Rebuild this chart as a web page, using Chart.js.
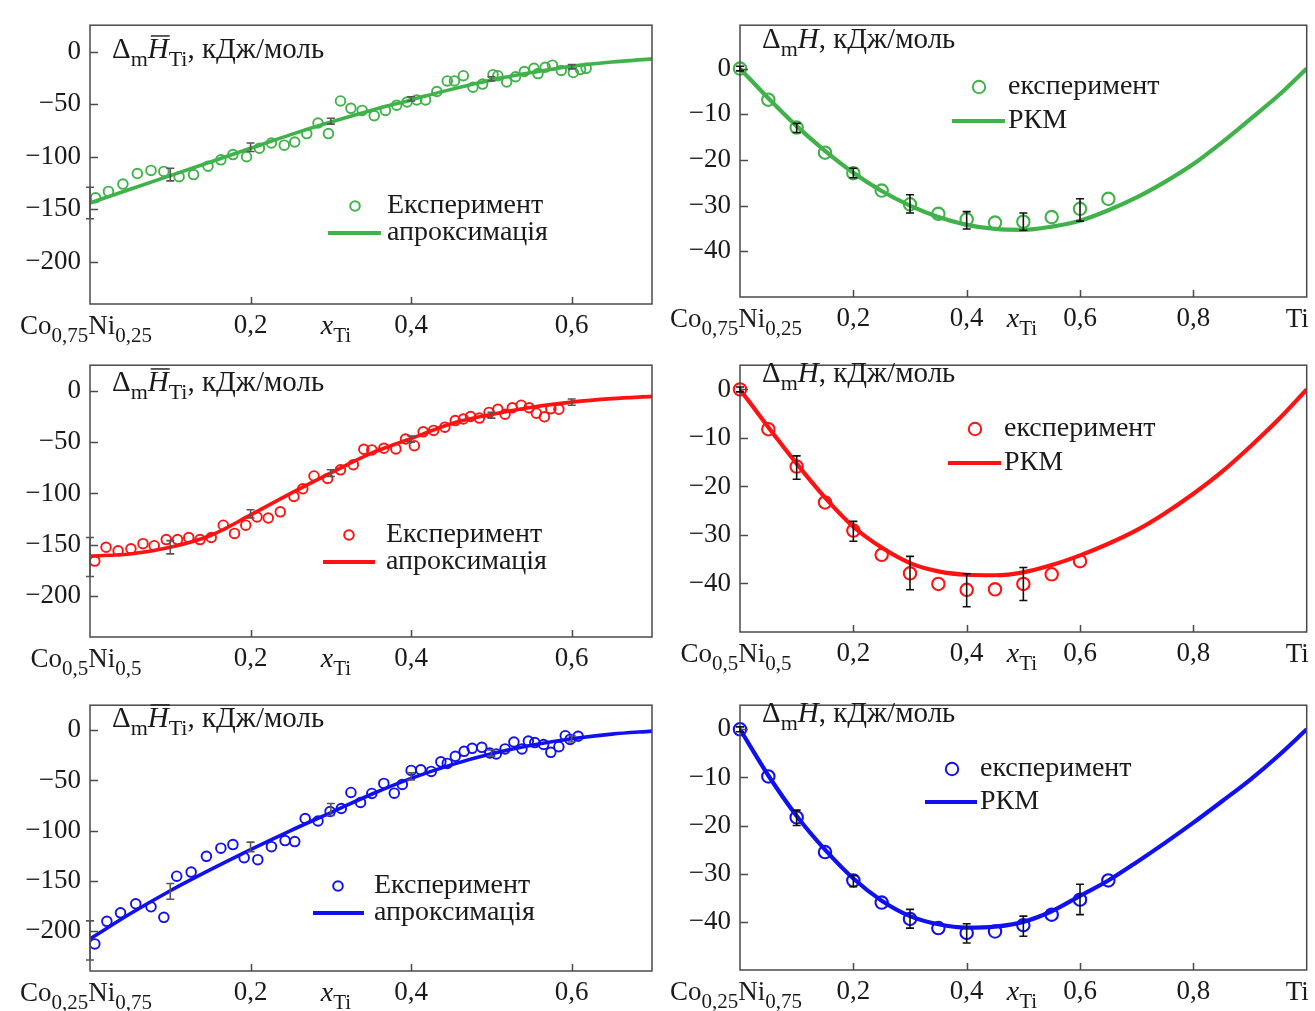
<!DOCTYPE html>
<html>
<head>
<meta charset="utf-8">
<script src="https://cdn.jsdelivr.net/npm/chart.js@4.4.1/dist/chart.umd.min.js"></script>
<style>
  body { margin: 0; background: #fff; width: 1315px; height: 1011px; position: relative; overflow: hidden; }
  canvas { position: absolute; }
</style>
</head>
<body>
<script>
// ---- data ----
const yTicksLeft = [0, -50, -100, -150, -200];
const yTicksRight = [0, -10, -20, -30, -40];
const xTicksLeft = [0.2, 0.4, 0.6];
const xTicksRight = [0.2, 0.4, 0.6, 0.8];

const fitXLeft = [0, 0.05, 0.1, 0.15, 0.2, 0.25, 0.3, 0.35, 0.4, 0.45, 0.5, 0.55, 0.6, 0.65, 0.7];
const fitXRight = [0, 0.05, 0.1, 0.15, 0.2, 0.25, 0.3, 0.35, 0.4, 0.45, 0.5, 0.55, 0.6, 0.65, 0.7, 0.75, 0.8, 0.85, 0.9, 0.95, 1.0];
const errXLeft = [0, 0.1, 0.2, 0.3, 0.4, 0.5, 0.6];

// partial enthalpy of Ti, Co0.75Ni0.25 (green)
const expXGreenL = [0.007, 0.023, 0.041, 0.059, 0.076, 0.092, 0.111, 0.129, 0.147, 0.163, 0.178, 0.195, 0.211, 0.226, 0.242, 0.255, 0.27, 0.284, 0.297, 0.312, 0.325, 0.339, 0.354, 0.368, 0.382, 0.395, 0.407, 0.418, 0.432, 0.445, 0.454, 0.465, 0.477, 0.489, 0.502, 0.508, 0.519, 0.53, 0.541, 0.553, 0.558, 0.567, 0.576, 0.587, 0.602, 0.611, 0.618];
const expYGreenL = [-139, -133, -126, -116, -113, -114, -119, -117, -109, -103, -98, -100, -92, -87, -89, -86, -78, -68, -78, -47, -54, -56, -61, -56, -51, -48, -46, -46, -38, -28, -28, -23, -34, -31, -22, -23, -29, -24, -19, -16, -21, -15, -13, -18, -20, -17, -16];
const fitYGreenL = [-144, -131, -118, -105, -92, -79, -67, -56, -46, -36, -27, -20, -14, -10, -7];
const errLoGreenL = [-159, -123, -95, -69, -47, -28, -16.5];
const errHiGreenL = [-129, -111, -87, -63.5, -43, -24, -12.5];

// partial enthalpy of Ti, Co0.5Ni0.5 (red)
const expXRedL = [0.006, 0.02, 0.035, 0.051, 0.066, 0.08, 0.095, 0.109, 0.123, 0.137, 0.151, 0.166, 0.18, 0.194, 0.208, 0.222, 0.237, 0.254, 0.265, 0.279, 0.296, 0.312, 0.328, 0.341, 0.351, 0.366, 0.381, 0.393, 0.404, 0.415, 0.428, 0.442, 0.455, 0.465, 0.474, 0.485, 0.497, 0.508, 0.517, 0.526, 0.537, 0.547, 0.556, 0.566, 0.574, 0.584];
const expYRedL = [-166, -152.5, -156, -154, -149, -151, -145, -145, -143, -145, -143, -131, -139, -131, -123, -124, -118, -103, -95.5, -83, -85.4, -77, -72, -57, -57.6, -56, -56.6, -47, -53.5, -40, -38.6, -35.4, -29, -27.5, -25, -26.6, -21, -18, -22.8, -16.5, -14, -16.5, -21.8, -25.3, -17.4, -18];
const fitYRedL = [-161, -159, -152.5, -141, -121, -100, -80, -61, -46.5, -32, -23, -16, -11, -7.6, -5.4];
const errLoRedL = [-181, -159, -124, -83.5, -50, -26.6, -14];
const errHiRedL = [-143, -146, -116, -77, -44, -21, -8];

// partial enthalpy of Ti, Co0.25Ni0.75 (blue)
const expXBlueL = [0.006, 0.021, 0.038, 0.057, 0.076, 0.092, 0.108, 0.126, 0.145, 0.163, 0.178, 0.192, 0.209, 0.226, 0.243, 0.255, 0.268, 0.284, 0.299, 0.313, 0.325, 0.337, 0.351, 0.366, 0.379, 0.389, 0.4, 0.412, 0.425, 0.437, 0.445, 0.455, 0.466, 0.476, 0.488, 0.498, 0.506, 0.517, 0.528, 0.538, 0.546, 0.554, 0.565, 0.574, 0.584, 0.592, 0.598, 0.608];
const expYBlueL = [-213, -190.5, -182, -173, -176, -186.5, -145.5, -141.4, -125.7, -117.5, -114, -127, -129, -116, -110, -111, -88, -90.4, -81, -78, -62, -72, -63, -53, -62.7, -54, -40, -39.4, -41, -31.5, -33, -26, -21, -18, -17, -22.7, -23.6, -18.6, -11.7, -18.6, -10.7, -12.3, -14.2, -22, -16.4, -5.4, -9.1, -6];
const fitYBlueL = [-208, -183, -160, -139, -119, -100, -82, -64, -48, -34.5, -23.5, -15, -8.5, -3.8, -0.8];
const errLoBlueL = [-229, -168.5, -121, -85, -49.5, -25.8, -11.7];
const errHiBlueL = [-190, -152.8, -111.5, -73, -42.5, -19.5, -5.4];

// integral mixing enthalpy, Co0.75Ni0.25–Ti (green)
const expXGreenR = [0, 0.05, 0.1, 0.15, 0.2, 0.25, 0.3, 0.35, 0.4, 0.45, 0.5, 0.55, 0.6, 0.65];
const expYGreenR = [0, -6.8, -12.9, -18.4, -22.9, -26.7, -29.7, -31.8, -33, -33.7, -33.5, -32.5, -30.7, -28.5];
const fitYGreenR = [0, -6.5, -12.6, -18, -22.8, -26.8, -30, -32.5, -34.2, -35.1, -35.3, -34.6, -33.3, -31, -28.2, -24.8, -20.9, -16.2, -11.1, -5.9, 0];
const errXGreenR = [0, 0.1, 0.2, 0.3, 0.4, 0.5, 0.6];
const errLoGreenR = [-0.5, -14, -23.9, -31.6, -35.1, -35.4, -33.4];
const errHiGreenR = [0.5, -12, -21.8, -27.6, -31.3, -31.6, -28.5];

// integral mixing enthalpy, Co0.5Ni0.5–Ti (red)
const expXRedR = [0, 0.05, 0.1, 0.15, 0.2, 0.25, 0.3, 0.35, 0.4, 0.45, 0.5, 0.55, 0.6];
const expYRedR = [0, -8.2, -15.9, -23.3, -29.1, -34.1, -37.9, -40.1, -41.3, -41.2, -40.1, -38.1, -35.4];
const fitYRedR = [0, -7.8, -15.3, -22.3, -28.3, -32.6, -35.8, -37.5, -38.2, -38.3, -37.7, -36.2, -34.2, -31.8, -29, -25.5, -21.5, -17, -11.8, -6.2, 0];
const errXRedR = [0, 0.1, 0.2, 0.3, 0.4, 0.5];
const errLoRedR = [-0.5, -18.5, -31.3, -41.3, -44.8, -43.5];
const errHiRedR = [0.5, -13.7, -27.2, -34.4, -38, -36.7];

// integral mixing enthalpy, Co0.25Ni0.75–Ti (blue)
const expXBlueR = [0, 0.05, 0.1, 0.15, 0.2, 0.25, 0.3, 0.35, 0.4, 0.45, 0.5, 0.55, 0.6, 0.65];
const expYBlueR = [0, -9.8, -18.3, -25.5, -31.4, -36, -39.4, -41.3, -42.3, -42, -40.7, -38.5, -35.4, -31.4];
const fitYBlueR = [0, -9.6, -18, -25, -31, -35.6, -38.8, -40.5, -41.2, -41, -40, -37.8, -34.6, -31.4, -27.6, -23.6, -19.4, -15, -10.5, -5.5, 0];
const errXBlueR = [0, 0.1, 0.2, 0.3, 0.4, 0.5, 0.6];
const errLoBlueR = [-0.5, -20, -32.7, -41.3, -44.4, -43, -38.5];
const errHiBlueR = [0.5, -16.8, -30.4, -37.4, -40.4, -38.8, -32.2];

// ---- look ----
const FONT = "'Liberation Serif', 'Times New Roman', serif";
const INK = '#1a1a1a';
const GREEN = '#3fb34a';
const RED = '#ff1212';
const BLUE = '#1010f0';
const TICK_SIZE = 27;

const pair = (xs, ys) => xs.map((x, i) => ({ x: x, y: ys[i] }));
const fmtY = v => (v < 0 ? '\u2212' + Math.abs(v) : String(v));
const fmtX = v => v.toFixed(1).replace('.', ',');

function setFont(ctx, st, size) {
  const it = st.includes('i') ? 'italic ' : '';
  const sz = st.includes('s') ? Math.round(size * 0.76) : size;
  ctx.font = it + sz + 'px ' + FONT;
}

// text with subscripts / overline, y is the baseline
function drawRich(ctx, parts, x, y, size, align) {
  let w = 0;
  parts.forEach(([t, st]) => { setFont(ctx, st, size); w += ctx.measureText(t).width; });
  let cx = align === 'center' ? x - w / 2 : (align === 'right' ? x - w : x);
  ctx.textAlign = 'left';
  ctx.textBaseline = 'alphabetic';
  ctx.fillStyle = INK;
  parts.forEach(([t, st]) => {
    setFont(ctx, st, size);
    const dy = st.includes('s') ? size * 0.28 : 0;
    ctx.fillText(t, cx, y + dy);
    const tw = ctx.measureText(t).width;
    if (st.includes('o')) {
      ctx.strokeStyle = INK;
      ctx.lineWidth = 1.4;
      ctx.beginPath();
      ctx.moveTo(cx + 3, y - size * 0.76);
      ctx.lineTo(cx + tw + 1, y - size * 0.76);
      ctx.stroke();
    }
    cx += tw;
  });
}

const decor = {
  id: 'decor',
  afterDatasetsDraw(chart) {
    const p = chart.options.plugins.decor;
    const ctx = chart.ctx;
    const a = chart.chartArea;
    const xs = chart.scales.x, ys = chart.scales.y;
    const ox = p.canvas[0], oy = p.canvas[1];
    ctx.save();

    // frame
    ctx.strokeStyle = '#4a4a4a';
    ctx.lineWidth = 1.5;
    ctx.strokeRect(a.left, a.top, a.right - a.left, a.bottom - a.top);

    // inward tick marks
    ctx.beginPath();
    p.xTicks.forEach(v => {
      const px = Math.round(xs.getPixelForValue(v)) + 0.5;
      ctx.moveTo(px, a.bottom); ctx.lineTo(px, a.bottom - 7);
    });
    p.yTicks.forEach(v => {
      const py = Math.round(ys.getPixelForValue(v)) + 0.5;
      ctx.moveTo(a.left, py); ctx.lineTo(a.left + 8, py);
    });
    ctx.stroke();

    // error bars
    ctx.strokeStyle = p.errColor;
    ctx.lineWidth = 1.6;
    ctx.beginPath();
    p.errX.forEach((v, i) => {
      const px = xs.getPixelForValue(v);
      const y1 = ys.getPixelForValue(p.errLo[i]);
      const y2 = ys.getPixelForValue(p.errHi[i]);
      ctx.moveTo(px, y1); ctx.lineTo(px, y2);
      ctx.moveTo(px - 4, y1); ctx.lineTo(px + 4, y1);
      ctx.moveTo(px - 4, y2); ctx.lineTo(px + 4, y2);
    });
    ctx.stroke();

    // title inside the plot
    drawRich(ctx, p.title, p.titleAt[0] - ox, p.titleAt[1] - oy, 29, 'left');

    // legend
    const L = p.legend;
    ctx.strokeStyle = p.color;
    ctx.lineWidth = 2;
    ctx.beginPath();
    ctx.arc(L.marker[0] - ox, L.marker[1] - oy, p.radius, 0, Math.PI * 2);
    ctx.stroke();
    ctx.lineWidth = 4;
    ctx.beginPath();
    ctx.moveTo(L.line[0] - ox, L.line[2] - oy);
    ctx.lineTo(L.line[1] - ox, L.line[2] - oy);
    ctx.stroke();
    drawRich(ctx, [[L.labels[0], 'n']], L.textX - ox, L.marker[1] - oy + 7, 28, 'left');
    drawRich(ctx, [[L.labels[1], 'n']], L.textX - ox, L.line[2] - oy + 7, 28, 'left');

    // axis texts
    const base = a.bottom + 30;
    drawRich(ctx, p.comp, a.left - 4, base, TICK_SIZE, 'center');
    drawRich(ctx, [['x', 'i'], ['Ti', 's']], p.xLabelAt - ox, base, 28, 'center');
    if (p.tiEnd) drawRich(ctx, [['Ti', 'n']], a.right + 2, base, TICK_SIZE, 'right');

    ctx.restore();
  }
};

const titleLeft = [['\u0394', 'n'], ['m', 's'], ['H', 'io'], ['Ti', 's'], [', кДж/моль', 'n']];
const titleRight = [['\u0394', 'n'], ['m', 's'], ['H', 'i'], [', кДж/моль', 'n']];
const legLeft = ['Експеримент', 'апроксимація'];
const legRight = ['експеримент', 'РКМ'];

// canvas rect and plot rect are page pixels; canvases overlap a little so subscripts are not cut
const panels = [
  { canvas: [0, 0, 660, 350], area: [90, 22, 652, 304], side: 'L', color: GREEN,
    exp: pair(expXGreenL, expYGreenL), fit: pair(fitXLeft, fitYGreenL),
    errX: errXLeft, errLo: errLoGreenL, errHi: errHiGreenL,
    comp: [['Co', 'n'], ['0,75', 's'], ['Ni', 'n'], ['0,25', 's']],
    titleAt: [112, 58], legend: { marker: [355, 206], line: [328, 381, 233], textX: 387, labels: legLeft } },
  { canvas: [0, 340, 660, 345], area: [90, 355, 652, 637], side: 'L', color: RED,
    exp: pair(expXRedL, expYRedL), fit: pair(fitXLeft, fitYRedL),
    errX: errXLeft, errLo: errLoRedL, errHi: errHiRedL,
    comp: [['Co', 'n'], ['0,5', 's'], ['Ni', 'n'], ['0,5', 's']],
    titleAt: [112, 391], legend: { marker: [349, 535], line: [323, 375, 562], textX: 386, labels: legLeft } },
  { canvas: [0, 680, 660, 331], area: [90, 689, 652, 971], side: 'L', color: BLUE,
    exp: pair(expXBlueL, expYBlueL), fit: pair(fitXLeft, fitYBlueL),
    errX: errXLeft, errLo: errLoBlueL, errHi: errHiBlueL,
    comp: [['Co', 'n'], ['0,25', 's'], ['Ni', 'n'], ['0,75', 's']],
    titleAt: [112, 727], legend: { marker: [338, 886], line: [313, 364, 913], textX: 374, labels: legLeft } },
  { canvas: [660, 0, 655, 345], area: [740, 11, 1308, 297], side: 'R', color: GREEN, yMax: 9.5,
    exp: pair(expXGreenR, expYGreenR), fit: pair(fitXRight, fitYGreenR),
    errX: errXGreenR, errLo: errLoGreenR, errHi: errHiGreenR,
    comp: [['Co', 'n'], ['0,75', 's'], ['Ni', 'n'], ['0,25', 's']],
    titleAt: [762, 48], legend: { marker: [979, 87], line: [952, 1005, 121], textX: 1008, labels: legRight } },
  { canvas: [660, 340, 655, 345], area: [740, 347, 1308, 632], side: 'R', color: RED, yMax: 5,
    exp: pair(expXRedR, expYRedR), fit: pair(fitXRight, fitYRedR),
    errX: errXRedR, errLo: errLoRedR, errHi: errHiRedR,
    comp: [['Co', 'n'], ['0,5', 's'], ['Ni', 'n'], ['0,5', 's']],
    titleAt: [762, 382], legend: { marker: [975, 429], line: [948, 1001, 463], textX: 1004, labels: legRight } },
  { canvas: [660, 680, 655, 331], area: [740, 688, 1308, 970], side: 'R', color: BLUE, yMax: 5,
    exp: pair(expXBlueR, expYBlueR), fit: pair(fitXRight, fitYBlueR),
    errX: errXBlueR, errLo: errLoBlueR, errHi: errHiBlueR,
    comp: [['Co', 'n'], ['0,25', 's'], ['Ni', 'n'], ['0,75', 's']],
    titleAt: [762, 722], legend: { marker: [952, 769], line: [925, 977, 802], textX: 980, labels: legRight } }
];

panels.forEach(p => {
  const [cx, cy, cw, ch] = p.canvas;
  const [al, at, ar, ab] = p.area;
  const left = p.side === 'L';
  const yW = 80, xH = 36;
  const cv = document.createElement('canvas');
  cv.width = cw; cv.height = ch;
  cv.style.left = cx + 'px'; cv.style.top = cy + 'px';
  document.body.appendChild(cv);

  const radius = left ? 4.8 : 6.2;
  const xTicks = left ? xTicksLeft : xTicksRight;
  const yTicks = left ? yTicksLeft : yTicksRight;

  new Chart(cv.getContext('2d'), {
    type: 'scatter',
    data: {
      datasets: [
        { data: p.exp, showLine: false, pointRadius: radius, pointHoverRadius: radius,
          pointBorderWidth: left ? 1.9 : 2.1, borderColor: p.color, backgroundColor: 'rgba(0,0,0,0)', clip: false },
        { data: p.fit, showLine: true, pointRadius: 0, borderWidth: left ? 3.6 : 4.2,
          borderColor: p.color, cubicInterpolationMode: 'monotone', fill: false }
      ]
    },
    plugins: [decor],
    options: {
      responsive: false,
      animation: false,
      events: [],
      layout: { padding: { left: al - cx - yW, top: at - cy, right: cx + cw - ar, bottom: cy + ch - ab - xH } },
      plugins: {
        legend: { display: false },
        tooltip: { enabled: false },
        decor: Object.assign({}, p, {
          xTicks: xTicks, yTicks: yTicks, radius: radius,
          errColor: left ? '#555' : '#111',
          title: left ? titleLeft : titleRight,
          xLabelAt: left ? 336 : 1022,
          tiEnd: !left
        })
      },
      scales: {
        x: {
          type: 'linear', min: 0, max: left ? 0.7 : 1,
          afterBuildTicks: s => { s.ticks = xTicks.map(v => ({ value: v })); },
          afterFit: s => { s.height = xH; },
          grid: { display: false, drawTicks: false }, border: { display: false },
          ticks: { callback: fmtX, font: { family: FONT, size: TICK_SIZE }, color: INK, padding: 6, maxRotation: 0, autoSkip: false }
        },
        y: {
          type: 'linear', min: left ? -240 : -50, max: left ? 25 : p.yMax,
          afterBuildTicks: s => { s.ticks = yTicks.map(v => ({ value: v })); },
          afterFit: s => { s.width = yW; },
          grid: { display: false, drawTicks: false }, border: { display: false },
          ticks: { callback: fmtY, font: { family: FONT, size: TICK_SIZE }, color: INK, padding: 9, autoSkip: false }
        }
      }
    }
  });
});
</script>
</body>
</html>
